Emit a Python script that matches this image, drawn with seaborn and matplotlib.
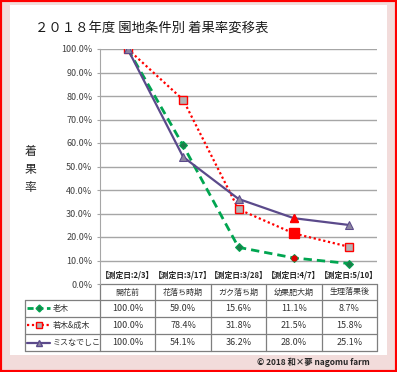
import numpy as np
import pandas as pd
import matplotlib
matplotlib.use('Agg')
import matplotlib.pyplot as plt
import seaborn as sns
from matplotlib.transforms import blended_transform_factory
from matplotlib.patches import Rectangle

# ---- data ----
stages = ['開花前', '花落ち時期', 'ガク落ち期', '幼果肥大期', '生理落果後']
dates = ['【測定日:2/3】', '【測定日:3/17】', '【測定日:3/28】', '【測定日:4/7】', '【測定日:5/10】']
series_names = ['老木', '若木&成木', 'ミスなでしこ']
roboku = [100.0, 59.0, 15.6, 11.1, 8.7]
wakagi = [100.0, 78.4, 31.8, 21.5, 15.8]
misu = [100.0, 54.1, 36.2, 28.0, 25.1]
yticks = [0, 10, 20, 30, 40, 50, 60, 70, 80, 90, 100]
title = '２０１８年度 園地条件別 着果率変移表'
ylabel = '着\n果\n率'
credit = '© 2018 和×夢 nagomu farm'

sns.set_style('white')
plt.rcParams['font.family'] = ['Noto Sans CJK JP', 'DejaVu Sans']

W, H = 397, 372
fig = plt.figure(figsize=(W / 100, H / 100), dpi=100)
fig.patch.set_facecolor('#F2DCDB')
fig.patches.append(Rectangle((10 / W, 17 / H), 377 / W, 350 / H, transform=fig.transFigure,
                             facecolor='white', edgecolor='none', zorder=-5))
fig.patches.append(Rectangle((0, 0), 1, 1, transform=fig.transFigure, fill=False,
                             edgecolor='#FF0000', lw=3, zorder=10))

ax = fig.add_axes([100 / W, 88 / H, 277 / W, 235 / H])
ax.set_facecolor('none')
x = np.arange(len(stages))

green, red, purple = '#00A550', '#FF0000', '#5B4A8B'
df = pd.DataFrame({'x': x, '老木': roboku, '若木&成木': wakagi, 'ミスなでしこ': misu})

sns.lineplot(data=df, x='x', y='老木', ax=ax, color=green, lw=2.0, linestyle=(0, (3.0, 1.8)),
             marker='D', markersize=3.8, markerfacecolor='#1E7B4A', markeredgecolor=green, zorder=3)
sns.lineplot(data=df, x='x', y='若木&成木', ax=ax, color=red, lw=1.6, linestyle=(0, (1, 1.2)),
             marker='s', markersize=5.5, markerfacecolor='#B4B4B4', markeredgecolor=red,
             markeredgewidth=1.0, zorder=4)
sns.lineplot(data=df, x='x', y='ミスなでしこ', ax=ax, color=purple, lw=1.6,
             marker='^', markersize=6, markerfacecolor='#8C86A0', markeredgecolor=purple, zorder=5)
# highlighted points at 4/7
ax.plot([x[3]], [wakagi[3]], marker='s', markersize=6.5, color=red, zorder=6)
ax.plot([x[3]], [misu[3]], marker='^', markersize=6, color=red, zorder=6)
ax.plot([x[3]], [roboku[3]], marker='o', markersize=3.5, color='#E00000', zorder=6)

ax.set_xlim(-0.5, 4.5)
ax.set_ylim(0, 100)
ax.set_yticks(yticks)
ax.set_yticklabels([f'{v:.1f}%' for v in yticks])
ax.set_xticks([])
ax.set_xlabel('')
ax.set_ylabel('')
for v in yticks[1:]:
    ax.axhline(v, color='#A6A6A6', lw=1, zorder=1)
for s in ['top', 'right', 'bottom']:
    ax.spines[s].set_visible(False)
ax.spines['left'].set_color('#A6A6A6')
ax.tick_params(axis='y', labelsize=6.5, labelcolor='#404040', length=2, color='#A6A6A6', pad=3.5, left=True)

for i, d in enumerate(dates):
    ax.text(x[i], 3.8, d, ha='center', va='center', fontsize=5.6, fontweight='bold', color='#262626')

# ---- data table ----
trans = blended_transform_factory(ax.transData, ax.transAxes)
rows_y = [0, -0.068, -0.140, -0.213, -0.285]
left_x = -1.854
col_x = [-0.5, 0.5, 1.5, 2.5, 3.5, 4.5]
tc = '#7F7F7F'
ax.plot([col_x[0], col_x[-1]], [0, 0], color=tc, lw=0.9, transform=trans, clip_on=False)
for yy in rows_y[1:]:
    ax.plot([left_x, col_x[-1]], [yy, yy], color=tc, lw=0.9, transform=trans, clip_on=False)
ax.plot([left_x, left_x], [rows_y[1], rows_y[-1]], color=tc, lw=0.9, transform=trans, clip_on=False)
for cx in col_x:
    ax.plot([cx, cx], [0, rows_y[-1]], color=tc, lw=0.9, transform=trans, clip_on=False)

for i, s in enumerate(stages):
    ax.text(x[i], (rows_y[0] + rows_y[1]) / 2, s, ha='center', va='center', fontsize=5.8,
            color='#333333', transform=trans)

table_series = [roboku, wakagi, misu]
styles = [
    dict(color=green, lw=2.0, linestyle=(0, (2.2, 1.3)), marker='D', markersize=3.5,
         markerfacecolor='#1E7B4A', markeredgecolor=green),
    dict(color=red, lw=1.6, linestyle=(0, (1, 1.2)), marker='s', markersize=4.5,
         markerfacecolor='#B4B4B4', markeredgecolor=red),
    dict(color=purple, lw=1.6, linestyle='-', marker='^', markersize=4,
         markerfacecolor='#8C86A0', markeredgecolor=purple),
]
for r, (name, vals, st) in enumerate(zip(series_names, table_series, styles)):
    yc = (rows_y[r + 1] + rows_y[r + 2]) / 2
    ax.plot([-1.818, -1.61, -1.402], [yc, yc, yc], transform=trans, clip_on=False,
            markevery=[1], **st)
    ax.text(-1.348, yc, name, ha='left', va='center', fontsize=5.8, color='#333333', transform=trans)
    for i, v in enumerate(vals):
        ax.text(x[i], yc, f'{v:.1f}%', ha='center', va='center', fontsize=6.5,
                color='#333333', transform=trans)

fig.text(35 / W, 1 - 28 / H, title, ha='left', va='center', fontsize=9.6, color='#1a1a1a')
fig.text(30 / W, 1 - 169 / H, ylabel, ha='center', va='center', fontsize=8.5, linespacing=1.5, color='#262626')
fig.text(370 / W, 1 - 362 / H, credit, ha='right', va='center', fontsize=6, fontweight='bold', color='#262626')

fig.savefig('out.png', dpi=100)
